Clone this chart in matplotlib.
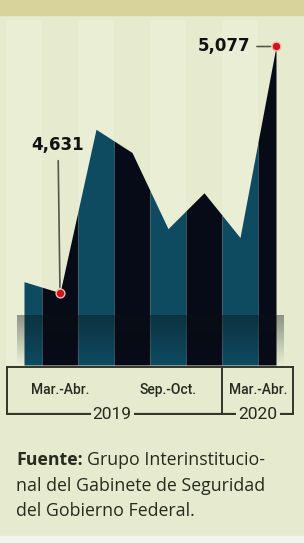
import numpy as np
import matplotlib
matplotlib.use("Agg")
import matplotlib.pyplot as plt
from matplotlib.patches import Rectangle
from matplotlib.colors import LinearSegmentedColormap

# bimonthly totals, Ene.-Feb. 2019 .. Mar.-Abr. 2020
periods = ["Ene.-Feb.", "Mar.-Abr.", "May.-Jun.", "Jul.-Ago.", "Sep.-Oct.", "Nov.-Dic.", "Ene.-Feb.", "Mar.-Abr."]
values = [4651, 4631, 4927, 4885, 4747, 4812, 4731, 5077]
tick_pos = [1, 4, 6.5]
tick_labels = ["Mar.-Abr.", "Sep.-Oct.", "Mar.-Abr."]
years = ["2019", "2020"]
year_pos = [2.45, 6.5]
source = ["Grupo Interinstitucio-", "nal del Gabinete de Seguridad", "del Gobierno Federal."]

W, H = 304, 543
BG = "#e6ebcf"
TEAL = "#0e4a60"
DARK = "#070b18"
INK = "#262a1f"
lab_font = ["Roboto", "DejaVu Sans"]

fig = plt.figure(figsize=(W / 100, H / 100), dpi=100, facecolor=BG)

# top band and bottom strip
fig.patches.append(Rectangle((0, 1 - 15 / H), 1, 15 / H, transform=fig.transFigure,
                             color="#d7d39b", zorder=0))
fig.patches.append(Rectangle((0, 0), 1, 7 / H, transform=fig.transFigure,
                             color="#f3f4ec", zorder=0))

ax = fig.add_axes([6 / W, (H - 365) / H, 288 / W, 345 / H])
ax.axis("off")

x = np.arange(len(values))
# faint background stripes
for i in x:
    if i % 2 == 0:
        ax.axvspan(i - 0.5, i + 0.5, color="#e9eed5", zorder=0, lw=0)

for i in x:
    lo, hi = max(i - 0.5, 0), min(i + 0.5, len(values) - 1)
    xs = np.unique([lo, i, hi])
    ys = np.interp(xs, x, values)
    ax.fill_between(xs, 4500, ys, color=TEAL if i % 2 == 0 else DARK, lw=0, zorder=2)

# darkening at the bottom of the chart
shade = LinearSegmentedColormap.from_list("shade", [(0.04, 0.06, 0.07, 0.0), (0.04, 0.06, 0.07, 0.4)])
grad = np.linspace(1, 0, 64).reshape(-1, 1)
ax.imshow(grad, cmap=shade, aspect="auto", extent=(-0.2, 7.2, 4500, 4590),
          origin="upper", zorder=3, interpolation="bicubic")
ax.set_xlim(-0.5, 7.5)
ax.set_ylim(4500, 5125)

# highlighted points
for idx, off, ha in [(7, (-26, 0), "right"), (1, (-2, 148), "center")]:
    ax.scatter(x[idx], values[idx], s=40, color="#d3121b", edgecolor="#f2b9a8",
               linewidth=1, zorder=6)
    ax.annotate("{:,}".format(values[idx]), (x[idx], values[idx]), xytext=off,
                textcoords="offset pixels", ha=ha, va="center", fontsize=12,
                fontweight="bold", color="#111111", zorder=6,
                arrowprops=dict(arrowstyle="-", color="#55574a", lw=1.2,
                                shrinkA=3, shrinkB=4))

# label box under the chart
bx = fig.add_axes([6 / W, (H - 415) / H, 288 / W, 49 / H], sharex=ax)
bx.set_ylim(0, 1)
bx.axis("off")
lc = "#34362a"
bx.plot([-0.47, 7.47], [0.98, 0.98], color=lc, lw=1.4)
bx.plot([-0.47, 7.47], [0.02, 0.02], color=lc, lw=1.6)
for xv in [-0.47, 5.5, 7.47]:
    bx.plot([xv, xv], [0.02, 0.98], color=lc, lw=1.4)
for p, t in zip(tick_pos, tick_labels):
    bx.text(p, 0.52, t, ha="center", va="center", fontsize=10, family=lab_font,
            fontweight="medium", color=INK)
for p, t in zip(year_pos, years):
    bx.text(p, 0.02, t, ha="center", va="center", fontsize=12.5, family=lab_font, color=INK,
            bbox=dict(facecolor=BG, edgecolor="none", pad=1.5))

# source note
fnt = ["Open Sans", "DejaVu Sans"]
fs = 12.8
t0 = fig.text(16 / W, 1 - 460 / H, "Fuente:", fontsize=fs, fontweight="bold",
              family=fnt, color=INK, va="center")
fig.canvas.draw()
bb = t0.get_window_extent()
fig.text((bb.x1 + 4) / W, 1 - 460 / H, source[0], fontsize=fs, family=fnt, color=INK, va="center")
for k, line in enumerate(source[1:]):
    fig.text(16 / W, 1 - (486 + 25 * k) / H, line, fontsize=fs, family=fnt, color=INK, va="center")

fig.savefig("out.png", dpi=100, facecolor=BG)
